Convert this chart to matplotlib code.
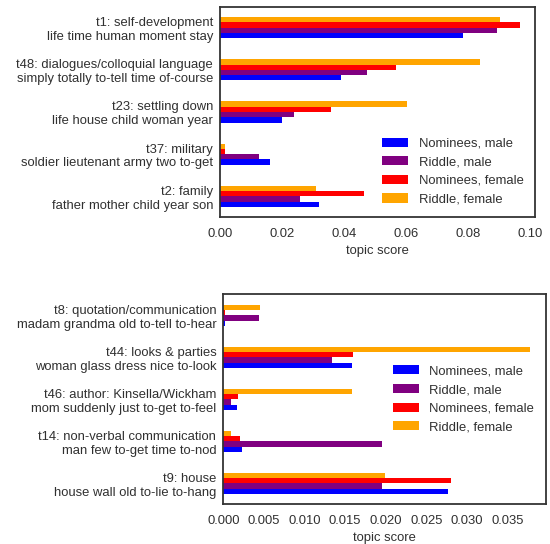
import numpy as np
import matplotlib
matplotlib.use("Agg")
import matplotlib.pyplot as plt
import seaborn as sns

sns.set_style("white")
plt.rcParams['font.family'] = ['Liberation Sans', 'DejaVu Sans']

series = ["Nominees, male", "Riddle, male", "Nominees, female", "Riddle, female"]
colors = ["#0000ff", "#800080", "#ff0000", "#ffa500"]

top_labels = [
    "t1: self-development\nlife time human moment stay",
    "t48: dialogues/colloquial language\nsimply totally to-tell time of-course",
    "t23: settling down\nlife house child woman year",
    "t37: military\nsoldier lieutenant army two to-get",
    "t2: family\nfather mother child year son",
]
top_nom_male = [0.0784, 0.0389, 0.0199, 0.0161, 0.0318]
top_rid_male = [0.0893, 0.0472, 0.0238, 0.0125, 0.0257]
top_nom_female = [0.0967, 0.0566, 0.0357, 0.0016, 0.0463]
top_rid_female = [0.0901, 0.0838, 0.0601, 0.0016, 0.0309]
top_xticks = [0.00, 0.02, 0.04, 0.06, 0.08, 0.10]

bot_labels = [
    "t8: quotation/communication\nmadam grandma old to-tell to-hear",
    "t44: looks & parties\nwoman glass dress nice to-look",
    "t46: author: Kinsella/Wickham\nmom suddenly just to-get to-feel",
    "t14: non-verbal communication\nman few to-get time to-nod",
    "t9: house\nhouse wall old to-lie to-hang",
]
bot_nom_male = [0.00026, 0.01587, 0.00169, 0.00229, 0.02768]
bot_rid_male = [0.00437, 0.01340, 0.00095, 0.01955, 0.01955]
bot_nom_female = [0.00026, 0.01596, 0.00182, 0.00203, 0.02807]
bot_rid_female = [0.00450, 0.03780, 0.01587, 0.00095, 0.01994]
bot_xticks = [0.000, 0.005, 0.010, 0.015, 0.020, 0.025, 0.030, 0.035]

FS = 13
TXT = '#303030'
fig = plt.figure(figsize=(550/72, 544/72), dpi=72)


def draw(ax, labels, data, xticks, xfmt, legend_loc):
    n = len(labels)
    y = np.arange(n)[::-1]
    h = 0.125
    offsets = [-1.5*h, -0.5*h, 0.5*h, 1.5*h]
    for vals, c, off, name in zip(data, colors, offsets, series):
        ax.barh(y + off, vals, height=h, color=c, label=name, linewidth=0)
    ax.set_ylim(-0.5, n - 0.5)
    mx = max(max(v) for v in data)
    ax.set_xlim(0, mx * 1.05)
    ax.set_yticks(y)
    ax.set_yticklabels(labels, fontsize=FS, color=TXT)
    ax.set_xticks(xticks)
    ax.set_xticklabels([xfmt.format(t) for t in xticks], fontsize=FS, color=TXT)
    ax.tick_params(axis='x', length=0, pad=11)
    ax.tick_params(axis='y', length=0, pad=7)
    ax.set_xlabel("topic score", fontsize=FS, color=TXT, labelpad=5)
    for s in ax.spines.values():
        s.set_color('#333333')
        s.set_linewidth(1.8)
    leg = ax.legend(loc=legend_loc, frameon=False, fontsize=FS)
    for t in leg.get_texts():
        t.set_color(TXT)


ax1 = fig.add_axes([220/550, 1 - 217.3/544, 315.3/550, 210.6/544])
draw(ax1, top_labels, [top_nom_male, top_rid_male, top_nom_female, top_rid_female],
     top_xticks, "{:.2f}", "lower right")

ax2 = fig.add_axes([223.3/550, 1 - 504.3/544, 322.4/550, 210.0/544])
draw(ax2, bot_labels, [bot_nom_male, bot_rid_male, bot_nom_female, bot_rid_female],
     bot_xticks, "{:.3f}", "center right")

fig.savefig("out.png", dpi=72)
